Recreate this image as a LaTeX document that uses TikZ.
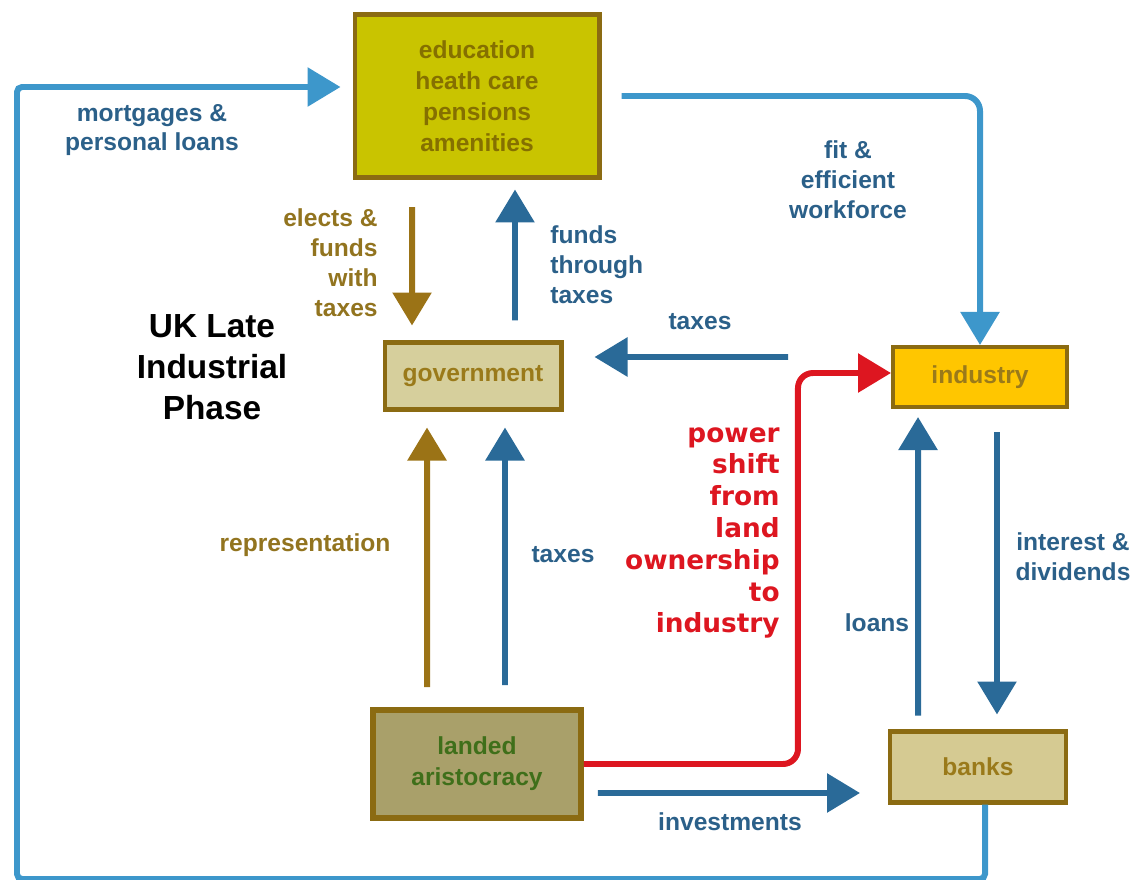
\documentclass[tikz,border=0pt]{standalone}
\usepackage{fontspec}
\setmainfont{Liberation Sans}
\newfontfamily\redfont{DejaVu Sans}
\usetikzlibrary{arrows.meta}

\definecolor{boxline}{HTML}{8B6B12}
\definecolor{topfill}{HTML}{C9C400}
\definecolor{toptext}{HTML}{857000}
\definecolor{govfill}{HTML}{D6CF9C}
\definecolor{indfill}{HTML}{FFC600}
\definecolor{landfill}{HTML}{A9A06A}
\definecolor{landtext}{HTML}{3F6F1A}
\definecolor{bankfill}{HTML}{D5CA92}
\definecolor{boxtext}{HTML}{9A7A1A}
\definecolor{bluetext}{HTML}{2B6089}
\definecolor{browntext}{HTML}{92741F}
\definecolor{lightblue}{HTML}{3D97CB}
\definecolor{darkblue}{HTML}{2A6A98}
\definecolor{brownarrow}{HTML}{9B7316}
\definecolor{powerred}{HTML}{DD1620}

\tikzset{
    box/.style={draw=boxline, line width=2.3pt, align=center, inner sep=0pt,
        font=\bfseries\fontsize{14}{17.6}\selectfont, text=boxtext},
    lbl/.style={align=center, inner sep=0pt,
        font=\bfseries\fontsize{14}{17}\selectfont, text=bluetext},
    flow/.style={line width=3.4pt, -{Triangle[width=0.76cm, length=0.66cm]}},
}

\begin{document}
\begin{tikzpicture}[x=0.02cm, y=-0.02cm]
\useasboundingbox (0,0) rectangle (1135,879);

% Draw boxes.
\node[box, fill=topfill, text=toptext, minimum width=4.9cm, minimum height=3.26cm]
    (services) at (477,96) {education\\heath care\\pensions\\amenities};
\node[box, fill=govfill, minimum width=3.54cm, minimum height=1.34cm]
    (gov) at (473,376) {government};
\node[box, fill=indfill, minimum width=3.48cm, minimum height=1.2cm]
    (industry) at (980,377) {industry};
\node[box, fill=landfill, text=landtext, line width=3.4pt, minimum width=4.16cm, minimum height=2.16cm]
    (landed) at (477,764) {landed\\aristocracy};
\node[box, fill=bankfill, minimum width=3.52cm, minimum height=1.42cm]
    (banks) at (978,767) {banks};

% Draw labels.
\node[lbl] (mortgages) at (152,130) {mortgages \&\\personal loans};
\node[lbl] (workforce) at (848,180) {fit \&\\efficient\\workforce};
\node[lbl, text=browntext, align=right, anchor=east] (elects) at (378,263) {elects \&\\funds\\with\\taxes};
\node[lbl, align=left, anchor=west] (through) at (550,265) {funds\\through\\taxes};
\node[lbl, text=black, font=\bfseries\fontsize{19}{23.5}\selectfont] (title) at (212,367) {UK Late\\Industrial\\Phase};
\node[lbl] (taxesgov) at (700,322) {taxes};
\node[lbl, text=powerred, align=right, anchor=east, font=\redfont\bfseries\fontsize{15}{18.1}\selectfont]
    (shift) at (780,533) {power\\shift\\from\\land\\ownership\\to\\industry};
\node[lbl, text=browntext] (repr) at (305,545) {representation};
\node[lbl] (taxesland) at (563,555) {taxes};
\node[lbl] (loans) at (877,623) {loans};
\node[lbl] (interest) at (1073,557) {interest \&\\dividends};
\node[lbl] (invest) at (730,822) {investments};

% Draw the outer loop.
\coordinate (corner) at (17,879);
\draw[flow, lightblue, rounded corners=0.1cm] ([xshift=0.14cm]banks.south) |- (corner)
    |- ([xshift=-0.24cm,yshift=0.18cm]services.west);
\draw[flow, lightblue, rounded corners=0.3cm] ([xshift=0.4cm]services.east) -| (industry.north);

% Draw flows round the government.
\draw[flow, brownarrow] ([xshift=-1.3cm,yshift=-0.55cm]services.south)
    -- ([xshift=-1.22cm,yshift=0.3cm]gov.north);
\draw[flow, darkblue] ([xshift=0.84cm,yshift=0.4cm]gov.north)
    -- ([xshift=0.76cm,yshift=-0.2cm]services.south);
\draw[flow, darkblue] ([xshift=-2.06cm,yshift=0.4cm]industry.west)
    -- ([xshift=0.62cm,yshift=0.38cm]gov.east);
\draw[flow, brownarrow] ([xshift=-1cm,yshift=0.4cm]landed.north)
    -- ([xshift=-0.92cm,yshift=-0.32cm]gov.south);
\draw[flow, darkblue] ([xshift=0.56cm,yshift=0.44cm]landed.north)
    -- ([xshift=0.64cm,yshift=-0.32cm]gov.south);

% Draw flows round the banks.
\draw[flow, darkblue] ([xshift=-1.2cm,yshift=0.28cm]banks.north)
    -- ([xshift=-1.24cm,yshift=-0.16cm]industry.south);
\draw[flow, darkblue] ([xshift=0.34cm,yshift=-0.46cm]industry.south)
    -- ([xshift=0.38cm,yshift=0.3cm]banks.north);
\draw[flow, darkblue] ([xshift=0.28cm,yshift=-0.58cm]landed.east)
    -- ([xshift=-0.56cm,yshift=-0.52cm]banks.west);

% Draw the power shift.
\draw[flow, powerred, rounded corners=0.3cm] (landed.east) -- ++(214,0)
    |- ([yshift=0.08cm]industry.west);

\end{tikzpicture}
\end{document}
